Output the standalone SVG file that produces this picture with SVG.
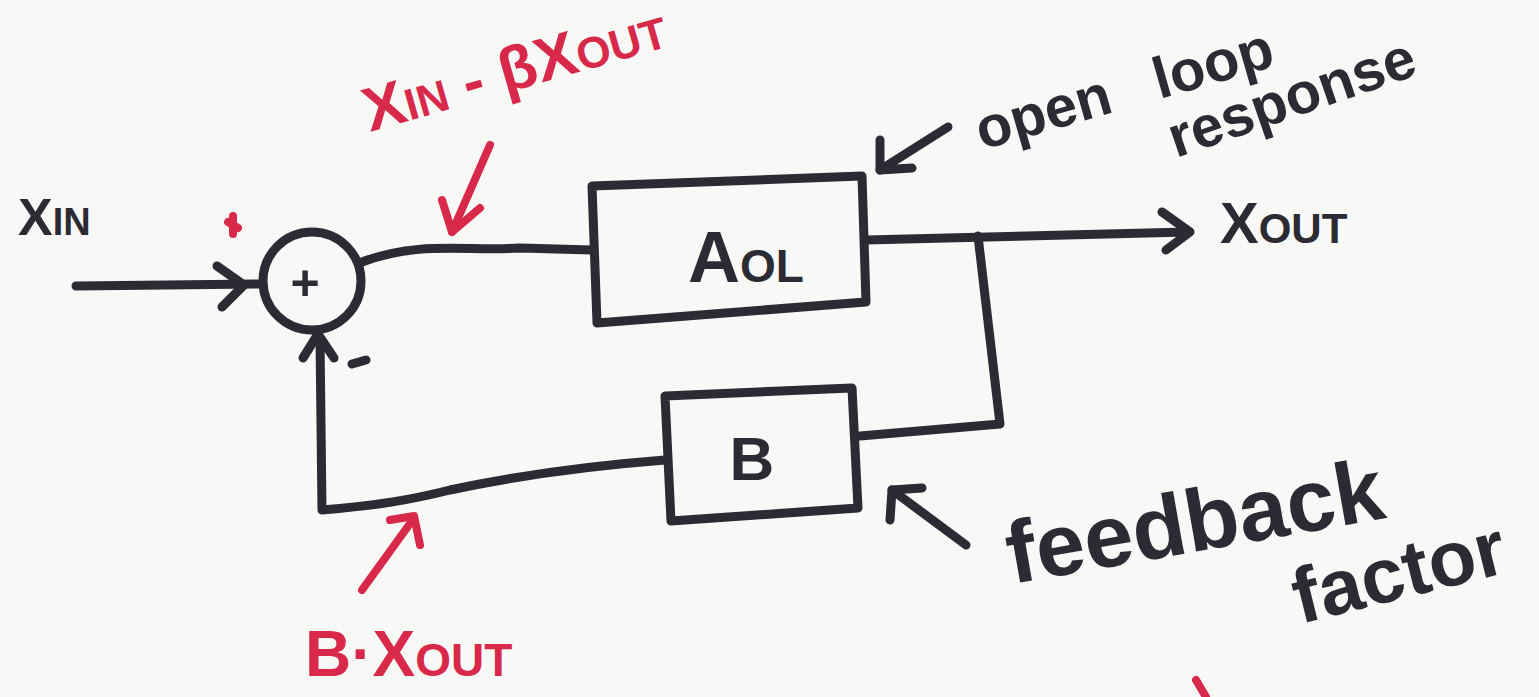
<svg xmlns="http://www.w3.org/2000/svg" width="1539" height="697" viewBox="0 0 1539 697">
<style>
.ink{fill:none;stroke:#2b2b34;stroke-width:9;stroke-linecap:round;stroke-linejoin:round}
.red{fill:none;stroke:#d8294a;stroke-width:8;stroke-linecap:round;stroke-linejoin:round}
.t{font-family:"Liberation Sans",Arial,sans-serif;font-weight:bold;fill:#2b2b34}
.tr{font-family:"Liberation Sans",Arial,sans-serif;font-weight:bold;fill:#d8294a}
</style>
<rect width="1539" height="697" fill="#f8f8f6"/>
<g id="sum">
<circle cx="312" cy="281" r="49" class="ink"/>
<text x="305" y="300" class="t" font-size="50" text-anchor="middle">+</text>
</g>
<g id="aol">
<path d="M592,186 L862,176 L866,302 L597,323 Z" class="ink"/>
<text x="688" y="282" class="t" font-size="72">A<tspan font-size="46">OL</tspan></text>
</g>
<g id="beta">
<path d="M665,396 L852,388 L858,508 L671,521 Z" class="ink"/>
<text x="752" y="480" class="t" font-size="62" text-anchor="middle">B</text>
</g>
<g id="connectors">
<path d="M76,286 L258,284" class="ink"/>
<path d="M217,266 L244,285 L222,307" class="ink"/>
<path d="M362,262 C420,240 470,252 520,248 L592,250" class="ink"/>
<path d="M866,240 L1188,232" class="ink"/>
<path d="M1162,212 L1190,232 L1166,250" class="ink"/>
<path d="M978,236 L1000,424 L860,436" class="ink"/>
<path d="M665,460 C600,465 520,475 450,490 C410,500 380,505 322,510 L320,338" class="ink"/>
<path d="M303,358 L318,334 L334,358" class="ink"/>
<path d="M352,364 L366,360" class="ink"/>
<path d="M948,127 L880,170" class="ink"/>
<path d="M880,140 L880,170 L912,168" class="ink"/>
<path d="M966,545 L892,490" class="ink"/>
<path d="M890,520 L892,490 L922,488" class="ink"/>
<path d="M490,145 L452,232" class="red"/>
<path d="M442,200 L452,232 L480,208" class="red"/>
<path d="M362,590 L414,518" class="red"/>
<path d="M390,520 L414,516 L420,545" class="red"/>
<path d="M228,222 L238,228 M233,216 L233,234" class="red"/>
<path d="M1196,680 L1206,697" class="red"/>
</g>
<g id="labels">
<text x="18" y="235" class="t" font-size="52">X<tspan font-size="38">IN</tspan></text>
<text x="1220" y="243" class="t" font-size="58">X<tspan font-size="42">OUT</tspan></text>
<text x="370" y="132" class="tr" font-size="62" transform="rotate(-16 370 132)">X<tspan font-size="44">IN</tspan> - βX<tspan font-size="44">OUT</tspan></text>
<text x="305" y="676" class="tr" font-size="64">B·X<tspan font-size="46">OUT</tspan></text>
<text x="982" y="150" class="t" font-size="58" transform="rotate(-16 982 150)" word-spacing="30">open loop</text>
<text x="1176" y="158" class="t" font-size="58" transform="rotate(-19 1176 158)">response</text>
<text x="1012" y="584" class="t" font-size="88" transform="rotate(-10 1012 584)">feedback</text>
<text x="1300" y="624" class="t" font-size="78" transform="rotate(-14 1300 624)">factor</text>
</g>
</svg>
